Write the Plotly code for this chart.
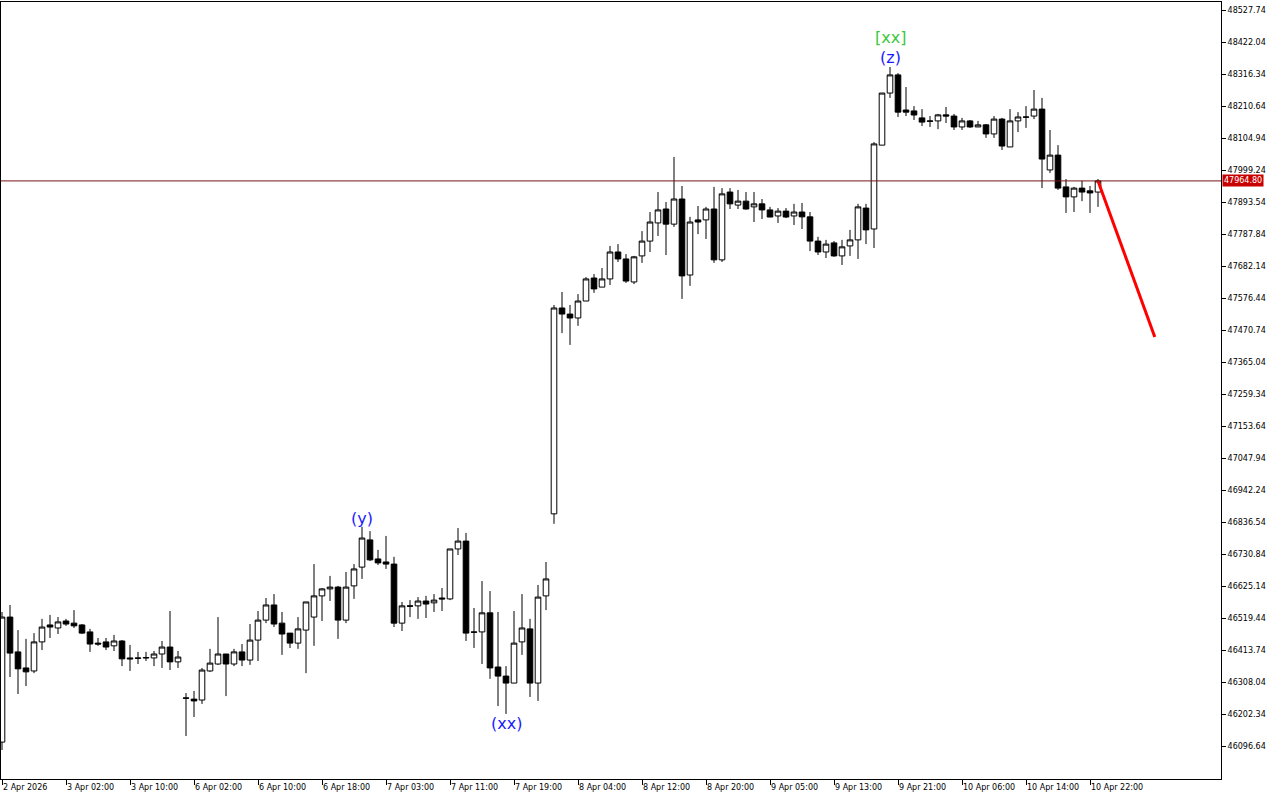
import plotly.graph_objects as go

# ---------------- data (hourly candles, index 0 = 2 Apr 2026 00:00) ----------------
opens = [
    46111, 46524, 46409, 46356, 46346, 46442, 46498, 46488, 46511, 46504,
    46498, 46475, 46438, 46442, 46429, 46445, 46389, 46389, 46389, 46389,
    46402, 46425, 46376, 46257, 46253, 46250, 46346, 46369, 46402, 46369,
    46409, 46382, 46448, 46514, 46564, 46504, 46471, 46438, 46481, 46524,
    46594, 46617, 46623, 46514, 46627, 46689, 46779, 46716, 46706, 46699,
    46504, 46561, 46561, 46577, 46571, 46587, 46584, 46749, 46775, 46475,
    46475, 46538, 46359, 46329, 46306, 46442, 46485, 46306, 46594, 46865,
    47545, 47525, 47512, 47568, 47644, 47614, 47641, 47730, 47707, 47631,
    47717, 47766, 47826, 47872, 47822, 47905, 47654, 47836, 47836, 47872,
    47704, 47928, 47885, 47898, 47879, 47889, 47869, 47849, 47865, 47849,
    47862, 47846, 47766, 47730, 47760, 47717, 47750, 47770, 47875, 47806,
    48083, 48255, 48315, 48199, 48196, 48173, 48163, 48163, 48183, 48179,
    48143, 48163, 48143, 48150, 48120, 48169, 48077, 48163, 48176, 48179,
    48202, 48001, 48050, 47945, 47912, 47941, 47932, 47928,
]
highs = [
    46541, 46564, 46481, 46452, 46471, 46518, 46531, 46524, 46518, 46547,
    46501, 46485, 46455, 46455, 46465, 46448, 46432, 46409, 46409, 46412,
    46445, 46544, 46412, 46273, 46280, 46356, 46419, 46524, 46402, 46419,
    46435, 46501, 46544, 46587, 46600, 46541, 46471, 46524, 46574, 46699,
    46620, 46660, 46627, 46673, 46699, 46822, 46808, 46746, 46792, 46723,
    46574, 46580, 46590, 46594, 46600, 46620, 46749, 46818, 46802, 46554,
    46643, 46610, 46541, 46362, 46544, 46600, 46518, 46630, 46706, 47555,
    47598, 47555, 47591, 47647, 47657, 47677, 47750, 47756, 47723, 47717,
    47799, 47862, 47928, 47895, 48044, 47948, 47846, 47882, 47879, 47945,
    47941, 47941, 47935, 47928, 47928, 47905, 47879, 47875, 47875, 47889,
    47892, 47862, 47780, 47770, 47766, 47770, 47803, 47889, 47889, 48093,
    48255, 48341, 48321, 48275, 48212, 48202, 48179, 48186, 48209, 48186,
    48173, 48166, 48163, 48153, 48179, 48173, 48202, 48192, 48212, 48265,
    48239, 48133, 48083, 47971, 47945, 47965, 47948, 47971,
]
lows = [
    46085, 46326, 46270, 46296, 46339, 46415, 46455, 46468, 46495, 46488,
    46468, 46409, 46429, 46415, 46412, 46362, 46346, 46369, 46379, 46362,
    46356, 46349, 46356, 46131, 46194, 46237, 46343, 46366, 46263, 46362,
    46362, 46366, 46379, 46504, 46491, 46399, 46422, 46419, 46339, 46429,
    46511, 46577, 46452, 46504, 46584, 46650, 46709, 46696, 46683, 46491,
    46478, 46524, 46518, 46521, 46541, 46544, 46580, 46729, 46445, 46422,
    46369, 46320, 46230, 46204, 46306, 46399, 46260, 46247, 46547, 46832,
    47462, 47423, 47486, 47568, 47595, 47614, 47621, 47697, 47628, 47624,
    47694, 47730, 47783, 47720, 47813, 47575, 47618, 47789, 47773, 47694,
    47697, 47872, 47872, 47870, 47829, 47839, 47845, 47826, 47842, 47819,
    47806, 47733, 47720, 47710, 47714, 47687, 47717, 47707, 47756, 47743,
    48083, 48239, 48176, 48179, 48166, 48146, 48143, 48136, 48156, 48133,
    48133, 48140, 48143, 48107, 48107, 48067, 48077, 48126, 48140, 48169,
    47941, 47991, 47935, 47859, 47862, 47898, 47859, 47879,
]
closes = [
    46524, 46405, 46353, 46343, 46442, 46491, 46491, 46508, 46501, 46495,
    46471, 46435, 46435, 46425, 46445, 46386, 46386, 46388, 46390, 46402,
    46425, 46376, 46392, 46256, 46247, 46349, 46372, 46402, 46369, 46409,
    46382, 46448, 46514, 46564, 46501, 46468, 46438, 46485, 46574, 46594,
    46617, 46623, 46514, 46623, 46683, 46785, 46713, 46703, 46699, 46504,
    46561, 46560, 46577, 46567, 46580, 46584, 46749, 46775, 46471, 46474,
    46538, 46356, 46329, 46306, 46438, 46488, 46306, 46590, 46650, 47545,
    47525, 47512, 47568, 47641, 47608, 47641, 47730, 47707, 47634, 47714,
    47766, 47829, 47869, 47822, 47905, 47651, 47829, 47829, 47872, 47704,
    47922, 47889, 47898, 47872, 47889, 47869, 47845.5, 47865, 47845.5, 47862,
    47846, 47766, 47730, 47756, 47717, 47747, 47770, 47879, 47803, 48087,
    48255, 48315, 48192, 48192, 48182.5, 48159, 48162, 48183, 48179, 48143,
    48163, 48143, 48150, 48120, 48169, 48080, 48163, 48176, 48175.5, 48202,
    48037, 48050, 47941, 47912, 47941, 47928, 47925, 47964.8,
]
candle_index = list(range(len(closes)))

# time axis labels (every 8th candle)
time_tick_index = [0, 8, 16, 24, 32, 40, 48, 56, 64, 72, 80, 88, 96, 104, 112, 120, 128, 136]
time_tick_labels = [
    "2 Apr 2026", "3 Apr 02:00", "3 Apr 10:00", "6 Apr 02:00", "6 Apr 10:00",
    "6 Apr 18:00", "7 Apr 03:00", "7 Apr 11:00", "7 Apr 19:00", "8 Apr 04:00",
    "8 Apr 12:00", "8 Apr 20:00", "9 Apr 05:00", "9 Apr 13:00", "9 Apr 21:00",
    "10 Apr 06:00", "10 Apr 14:00", "10 Apr 22:00",
]

# price axis ticks
price_ticks = [
    46096.64, 46202.34, 46308.04, 46413.74, 46519.44, 46625.14, 46730.84, 46836.54,
    46942.24, 47047.94, 47153.64, 47259.34, 47365.04, 47470.74, 47576.44, 47682.14,
    47787.84, 47893.54, 47999.24, 48104.94, 48210.64, 48316.34, 48422.04, 48527.74,
]
current_price = 47964.80

# wave labels
wave_text = ["(y)", "(xx)", "(z)", "[xx]"]
wave_index = [45, 63, 111, 111]
wave_price = [46848, 46174, 48371, 48437]
wave_color = ["#1a1aff", "#1a1aff", "#1a1aff", "#3cc83c"]

# forecast line
forecast_x = [137, 144.1]
forecast_y = [47964.8, 47449.2]

FONT = "DejaVu Sans, sans-serif"

fig = go.Figure()
fig.add_trace(go.Candlestick(
    x=candle_index, open=opens, high=highs, low=lows, close=closes,
    increasing=dict(line=dict(color="black", width=1), fillcolor="white"),
    decreasing=dict(line=dict(color="black", width=1), fillcolor="black"),
    whiskerwidth=0, showlegend=False, hoverinfo="skip",
))
fig.add_trace(go.Scatter(
    x=forecast_x, y=forecast_y, mode="lines",
    line=dict(color="#ff0000", width=3), showlegend=False, hoverinfo="skip",
))

# current price line
fig.add_shape(type="line", xref="paper", x0=0, x1=1, yref="y",
              y0=current_price, y1=current_price,
              line=dict(color="#7a1414", width=1))

annotations = []
for t, xi, yp, c in zip(wave_text, wave_index, wave_price, wave_color):
    annotations.append(dict(x=xi, y=yp, xref="x", yref="y", text=t, showarrow=False,
                            font=dict(family="DejaVu Sans, sans-serif", size=16, color=c),
                            xanchor="center", yanchor="middle"))
for xi, lab in zip(time_tick_index, time_tick_labels):
    annotations.append(dict(x=xi, y=0, xref="x", yref="paper", text=lab, showarrow=False,
                            font=dict(family=FONT, size=8, color="black"),
                            xanchor="left", yanchor="top", xshift=-1, yshift=-2))
annotations.append(dict(x=1, y=current_price, xref="paper", yref="y",
                        text=f"{current_price:.2f}", showarrow=False,
                        font=dict(family=FONT, size=8, color="white"),
                        bgcolor="#c80000", borderpad=1,
                        xanchor="left", yanchor="middle", xshift=1))

fig.update_layout(
    width=1280, height=800,
    margin=dict(l=1, r=59, t=2, b=21),
    paper_bgcolor="white", plot_bgcolor="white",
    boxgap=0.3, boxgroupgap=0,
    showlegend=False,
    annotations=annotations,
    font=dict(family=FONT, size=8, color="black"),
)
fig.update_xaxes(
    range=[-0.125, 152.375], rangeslider_visible=False,
    showgrid=False, zeroline=False,
    showline=True, linecolor="black", linewidth=1, mirror=True,
    tickvals=time_tick_index, ticks="outside", ticklen=5, tickcolor="black",
    showticklabels=False,
)
fig.update_yaxes(
    range=[45989.1, 48555.8], side="right",
    showgrid=False, zeroline=False,
    showline=True, linecolor="black", linewidth=1, mirror=True,
    tickvals=price_ticks, ticktext=[f"{v:.2f}" for v in price_ticks],
    ticks="outside", ticklen=4, tickcolor="black",
    tickfont=dict(family=FONT, size=8, color="black"),
)

fig.write_html("out.html", config={"displayModeBar": False},
               post_script="document.body.style.margin='0px';")
